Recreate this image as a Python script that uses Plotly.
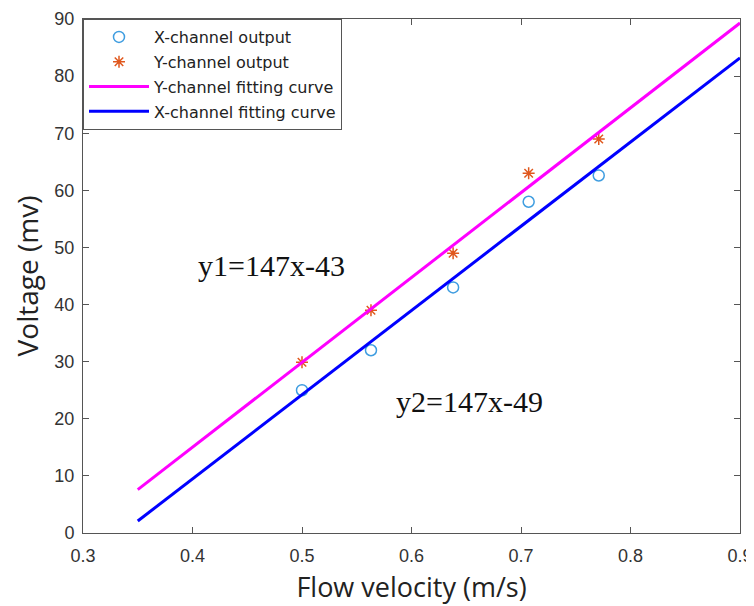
import plotly.graph_objects as go

# Data
velocity = [0.5, 0.563, 0.638, 0.707, 0.771]
x_channel = [25.0, 32.0, 43.0, 58.0, 62.6]
y_channel = [29.9, 39.0, 49.0, 63.0, 69.0]

fit_velocity = [0.35, 0.9]
y_fit = [7.6, 89.3]
x_fit = [2.1, 83.2]

x_ticks = [0.3, 0.4, 0.5, 0.6, 0.7, 0.8, 0.9]
y_ticks = [0, 10, 20, 30, 40, 50, 60, 70, 80, 90]

eq1_text = "y1=147x-43"
eq2_text = "y2=147x-49"

fig = go.Figure()
fig.add_trace(go.Scatter(
    x=velocity, y=x_channel, mode="markers", name="X-channel output", legendgroup="a",
    marker=dict(symbol="circle-open", size=11, color="#3f9de0", line=dict(width=1.5)),
))
fig.add_trace(go.Scatter(
    x=velocity, y=y_channel, mode="markers", name="Y-channel output", legendgroup="b",
    marker=dict(symbol="asterisk-open", size=10, color="#e0581e", line=dict(width=1.5, color="#e0581e")),
))
fig.add_trace(go.Scatter(
    x=fit_velocity, y=y_fit, mode="lines", name="Y-channel fitting curve", legendgroup="c",
    line=dict(color="#ff00ff", width=3),
))
fig.add_trace(go.Scatter(
    x=fit_velocity, y=x_fit, mode="lines", name="X-channel fitting curve", legendgroup="d",
    line=dict(color="#0000ff", width=3),
))

fig.add_annotation(x=0.472, y=46.9, xref="x", yref="y", text=eq1_text, showarrow=False,
                   font=dict(family="Liberation Serif", size=30, color="#111111"))
fig.add_annotation(x=0.653, y=23.1, xref="x", yref="y", text=eq2_text, showarrow=False,
                   font=dict(family="Liberation Serif", size=30, color="#111111"))

axis_common = dict(
    showgrid=False, zeroline=False, showline=True, linecolor="#555555", linewidth=1,
    mirror="ticks", ticks="inside", ticklen=6, tickcolor="#555555", automargin=False,
    tickfont=dict(family="Liberation Sans", size=18, color="#333333"),
)

fig.update_xaxes(range=[0.3, 0.9], tickvals=x_ticks, ticktext=[f"{v:.1f}" for v in x_ticks],
                 ticklabelstandoff=6,
                 title=dict(text="Flow velocity (m/s)", font=dict(family="Open Sans", size=27, color="#222222"),
                            standoff=13),
                 **axis_common)
fig.update_yaxes(range=[0, 90], tickvals=y_ticks, ticklabelstandoff=4,
                 title=dict(text="Voltage (mv)", font=dict(family="Open Sans", size=28, color="#222222"),
                            standoff=11),
                 **axis_common)

# the page body has an 8px margin, so the figure is sized to fit the window
fig.update_layout(
    width=746, height=598,
    margin=dict(l=75, r=14, t=11, b=73),
    plot_bgcolor="white", paper_bgcolor="white",
    showlegend=True,
    legend=dict(x=0, y=1, xanchor="left", yanchor="top",
                bordercolor="#555555", borderwidth=1, bgcolor="white",
                font=dict(family="DejaVu Sans", size=16, color="#222222"),
                itemwidth=60, tracegroupgap=1),
)

fig.write_html("out.html")
